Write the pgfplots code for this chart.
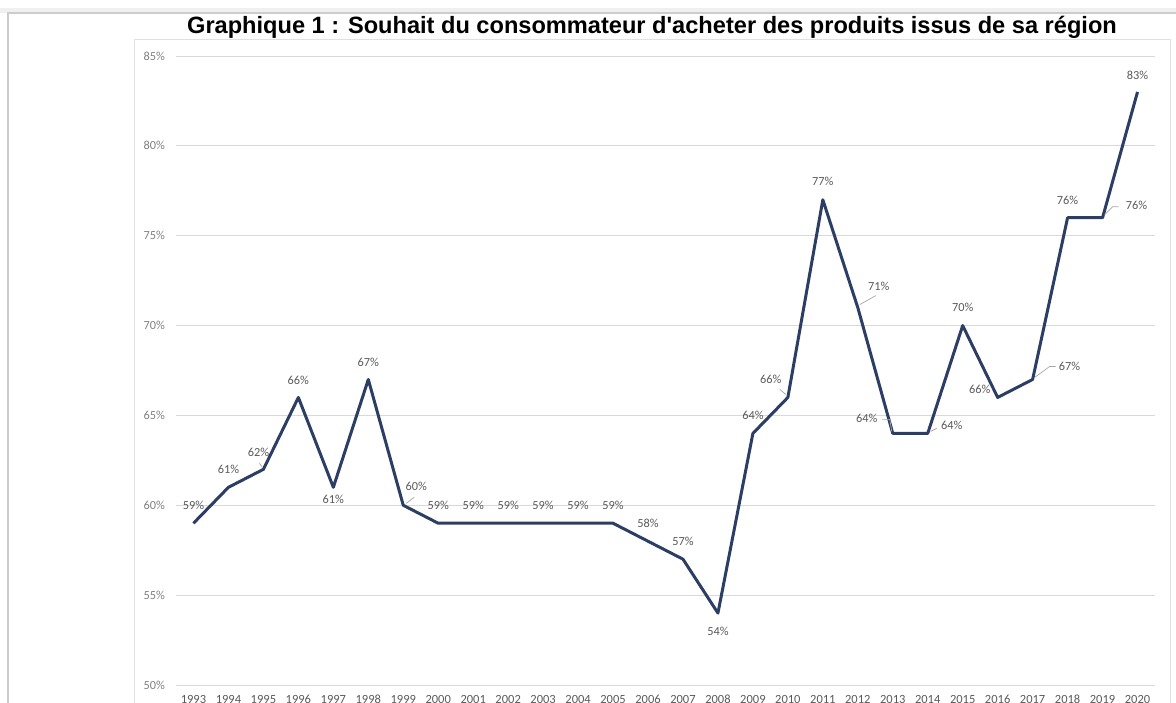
\documentclass[border=0pt]{standalone}
\usepackage{pgfplots}
\usepackage{pgfplotstable}
\pgfplotsset{compat=1.18}
\usepackage{fontspec}
\setmainfont{Carlito}
\newfontfamily\titlefont{Liberation Sans}
\definecolor{navy}{RGB}{44,62,100}
\definecolor{gridc}{RGB}{217,217,217}
\definecolor{labc}{RGB}{89,89,89}
\definecolor{tickc}{RGB}{128,128,128}
\definecolor{leadc}{RGB}{166,166,166}

\pgfplotstableread{
x y lab dx dy
1993 59 59 0 18
1994 61 61 0 18
1995 62 62 -5 17
1996 66 66 0 17
1997 61 61 0 -12
1998 67 67 0 17
1999 60 60 13 19
2000 59 59 0 18
2001 59 59 0 18
2002 59 59 0 18
2003 59 59 0 18
2004 59 59 0 18
2005 59 59 0 18
2006 58 58 0 18
2007 57 57 0 18
2008 54 54 0 -18
2009 64 64 0 18
2010 66 66 -17 18
2011 77 77 0 18
2012 71 71 21 21
2013 64 64 -26 15
2014 64 64 24 8
2015 70 70 0 18
2016 66 66 -18 8
2017 67 67 37 13
2018 76 76 0 17
2019 76 76 34 12
2020 83 83 0 17
}\datatable

\begin{document}
\begin{tikzpicture}
\path[use as bounding box] (0pt,0pt) rectangle (1176pt,703pt);
% outer frame
\fill[black!6] (0pt,690pt) rectangle (1176pt,695pt);
\draw[black!20, line width=1.5pt] (8pt,0pt) -- (8pt,690pt) -- (1176pt,690pt);
\draw[black!12, line width=1pt] (134pt,-5pt) -- (134pt,663pt) -- (1170pt,663pt) -- (1170pt,-5pt);
\node[anchor=base, font=\titlefont\bfseries\fontsize{23.6}{27}\selectfont] at (652pt,669pt) {Graphique 1 : Souhait du consommateur d'acheter des produits issus de sa région};
\begin{axis}[
  at={(176pt,18pt)}, anchor=south west,
  scale only axis, width=979pt, height=629pt,
  xmin=1992.5, xmax=2020.5, ymin=50, ymax=85,
  clip=false,
  axis line style={draw=none},
  major tick style={draw=none},
  ymajorgrids, grid style={gridc, line width=0.9pt},
  ytick={50,55,60,65,70,75,80,85},
  yticklabels={50\%,55\%,60\%,65\%,70\%,75\%,80\%,85\%},
  yticklabel style={anchor=east, inner sep=0pt, xshift=-11pt, text=tickc, font=\fontsize{12.3}{14}\selectfont},
  xtick={1993,1994,1995,1996,1997,1998,1999,2000,2001,2002,2003,2004,2005,2006,2007,2008,2009,2010,2011,2012,2013,2014,2015,2016,2017,2018,2019,2020},
  xticklabels={1993,1994,1995,1996,1997,1998,1999,2000,2001,2002,2003,2004,2005,2006,2007,2008,2009,2010,2011,2012,2013,2014,2015,2016,2017,2018,2019,2020},
  xticklabel style={anchor=base, inner sep=0pt, yshift=-19pt, text=labc, font=\fontsize{12.5}{14}\selectfont},
]
\addplot[navy, line width=3pt, line join=round, mark=none,
  nodes near coords={\pgfplotspointmeta\%},
  point meta=explicit symbolic,
  visualization depends on={\thisrow{dx}\as\dx},
  visualization depends on={\thisrow{dy}\as\dy},
  every node near coord/.append style={anchor=center, inner sep=0pt, text=labc, font=\fontsize{12.3}{14}\selectfont, xshift=\dx pt, yshift=\dy pt},
] table[x=x, y=y, meta=lab] {\datatable};
% leader lines
\begin{scope}[leadc, line width=0.7pt]
\draw ([shift={(-1pt,2pt)}]axis cs:1995,62) -- ++(-3pt,4pt);
\draw ([shift={(3pt,2pt)}]axis cs:1999,60) -- ++(8pt,6pt);
\draw ([shift={(-2pt,3pt)}]axis cs:2010,66) -- ++(-6pt,5pt);
\draw ([shift={(2pt,3pt)}]axis cs:2012,71) -- ++(16pt,9pt);
\draw ([shift={(-1pt,2pt)}]axis cs:2013,64) -- ++(-2pt,12pt) -- ++(-8pt,0pt);
\draw ([shift={(3pt,2pt)}]axis cs:2014,64) -- ++(6pt,3pt);
\draw ([shift={(2pt,2pt)}]axis cs:2017,67) -- ++(15pt,11pt) -- ++(6pt,0pt);
\draw ([shift={(2pt,3pt)}]axis cs:2019,76) -- ++(8pt,8pt) -- ++(6pt,0pt);
\end{scope}
\end{axis}
\end{tikzpicture}
\end{document}
